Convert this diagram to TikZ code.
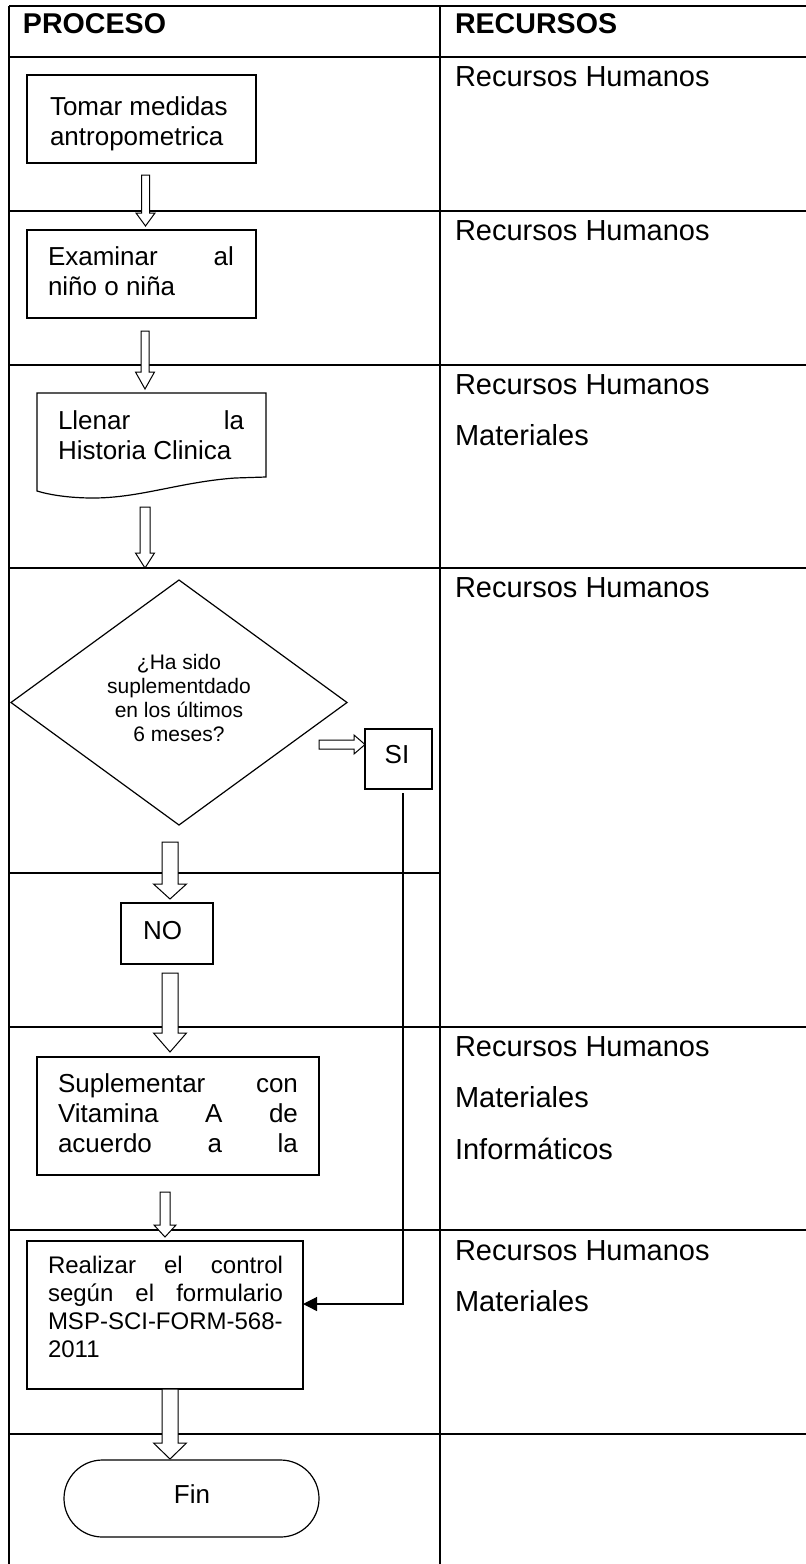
\documentclass[tikz,border=0pt]{standalone}
\usepackage{fontspec}
\setmainfont{Liberation Sans}
\usetikzlibrary{shapes.geometric,arrows.meta}
\newcommand\bfontx{\fontsize{26}{30}\selectfont}
\newcommand\rfontx{\fontsize{29}{51.5}\selectfont}
\newcommand\jline[2]{\makebox[#1][s]{#2}}
\newcommand\blockdown[6]{%
  \draw[hollow] (#1-#5,#2) -- (#1+#5,#2) -- (#1+#5,#3) -- (#1+#6,#3) -- (#1,#4) -- (#1-#6,#3) -- (#1-#5,#3) -- cycle;}
\begin{document}
\begin{tikzpicture}[x=1pt,y=-1pt,
  grid/.style={line width=1.8pt},
  shapebox/.style={draw, line width=1.2pt, inner sep=0pt, outer sep=0pt, rectangle},
  txt/.style={inner sep=0pt, outer sep=0pt, anchor=base west},
  ctxt/.style={inner sep=0pt, outer sep=0pt, anchor=base},
  hollow/.style={draw, line width=1pt, fill=white, line join=miter},
  link/.style={line width=1.2pt, -{Triangle[length=14pt,width=14pt]}}]
\useasboundingbox (0,0) rectangle (806,1564);
% table grid
\draw[grid] (9,6) -- (806,6);
\draw[grid] (9,6) -- (9,1564);
\draw[grid] (440,6) -- (440,1564);
\foreach \yy in {57,211,365,568,1027,1230,1434} \draw[grid] (9,\yy) -- (806,\yy);
\draw[grid] (9,873) -- (440,873);
% headers
\node[txt, font=\bfseries\fontsize{28.6}{30}\selectfont] (h1) at (23,33) {PROCESO};
\node[txt, font=\bfseries\fontsize{28.6}{30}\selectfont] (h2) at (455,33) {RECURSOS};
% right column
\node[txt] (r1) at (455,86) {\parbox[t]{340pt}{\rfontx Recursos Humanos}};
\node[txt] (r2) at (455,240) {\parbox[t]{340pt}{\rfontx Recursos Humanos}};
\node[txt] (r3) at (455,394) {\parbox[t]{340pt}{\rfontx Recursos Humanos\\Materiales}};
\node[txt] (r4) at (455,597) {\parbox[t]{340pt}{\rfontx Recursos Humanos}};
\node[txt] (r6) at (455,1056) {\parbox[t]{340pt}{\rfontx Recursos Humanos\\Materiales\\Informáticos}};
\node[txt] (r7) at (455,1260) {\parbox[t]{340pt}{\rfontx Recursos Humanos\\Materiales}};
% boxes
\node[shapebox, minimum width=229pt, minimum height=88pt] (b1) at (141.5,119) {};
\node[txt] (t1) at (50,115) {\parbox[t]{260pt}{\bfontx Tomar medidas\\antropometrica}};
\node[shapebox, minimum width=229pt, minimum height=88pt] (b2) at (141.5,274) {};
\node[txt] (t2) at (48,265) {\parbox[t]{260pt}{\bfontx \jline{186pt}{Examinar al}\\niño o niña}};
% document shape
\draw[line width=1.2pt, line join=miter] (37,393) coordinate (b3nw) -- (266,393) coordinate (b3ne) -- (266,477)
  -- (235,478) .. controls (180,482) and (140,498) .. (93,498) .. controls (70,498) and (50,495) .. (37,491) -- cycle;
\node[txt] (t3) at (58,429) {\parbox[t]{260pt}{\bfontx \jline{186pt}{Llenar la}\\Historia Clinica}};
% decision
\node[draw, diamond, line width=1.2pt, inner sep=0pt, outer sep=0pt, minimum width=336pt, minimum height=245pt] (d) at (179,702.5) {};
\node[ctxt] (td) at (179,669) {\parbox[t]{220pt}{\centering\fontsize{21}{24}\selectfont ¿Ha sido\\suplementdado\\en los últimos\\6 meses?}};
\node[shapebox, minimum width=67pt, minimum height=60pt] (si) at (398.5,759) {};
\node[ctxt, font=\bfontx] (tsi) at (397,763) {SI};
\node[shapebox, minimum width=92pt, minimum height=61pt] (no) at (167,933.5) {};
\node[txt, font=\bfontx] (tno) at (143,939) {NO};
\node[shapebox, minimum width=282pt, minimum height=118pt] (b5) at (178,1116) {};
\node[txt] (t5) at (58,1092) {\parbox[t]{300pt}{\bfontx \jline{240pt}{Suplementar con}\\\jline{240pt}{Vitamina A de}\\\jline{240pt}{acuerdo a la}}};
\node[shapebox, minimum width=276pt, minimum height=148pt] (b6) at (165,1315) {};
\node[txt] (t6) at (48,1273) {\parbox[t]{300pt}{\fontsize{24}{28.2}\selectfont \jline{235pt}{Realizar el control}\\\jline{235pt}{según el formulario}\\\mbox{MSP-SCI-FORM-568-}\\2011}};
\node[shapebox, minimum width=255pt, minimum height=77pt, rounded corners=38.5pt] (fin) at (191.5,1498.5) {};
\node[ctxt, font=\bfontx] (tfin) at (192,1503) {Fin};
% hollow block arrows
\blockdown{145.5}{175}{213}{226}{4}{9.5}
\blockdown{145}{331}{372}{389}{4}{9.5}
\blockdown{145}{507}{553}{568}{5}{9.5}
\blockdown{170}{842}{884}{899}{8}{16.5}
\blockdown{170}{973}{1033}{1052}{8}{16.5}
\blockdown{165}{1192}{1225}{1237}{5}{11}
\blockdown{170}{1389}{1443}{1459}{8}{16.5}
\draw[hollow] (319,740) -- (354,740) -- (354,735) -- (365,744.5) -- (354,754) -- (354,749) -- (319,749) -- cycle;
% SI connector
\draw[link] ([xshift=4.5pt,yshift=-4pt]si.south) |- ([yshift=11pt]b6.east);
\end{tikzpicture}
\end{document}
